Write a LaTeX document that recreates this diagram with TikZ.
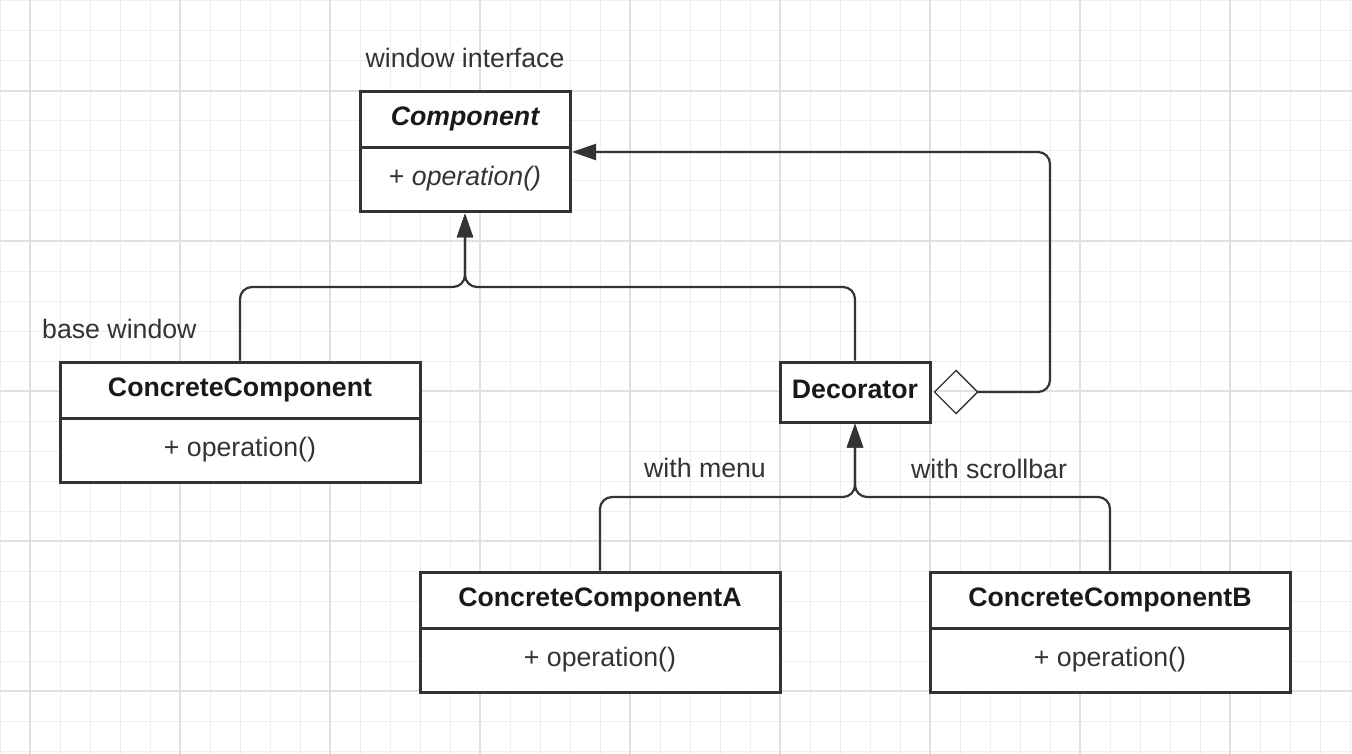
\documentclass[tikz,border=0pt]{standalone}
\usepackage{fontspec}
\setmainfont{Liberation Sans}
\usetikzlibrary{arrows.meta}
\definecolor{ink}{HTML}{333333}
\definecolor{gridminor}{HTML}{EEEEEE}
\definecolor{gridmajor}{HTML}{E0E0E0}
\tikzset{
  boxpart/.style={draw=ink, line width=3pt, fill=white, inner sep=0pt,
    text height=18pt, text depth=6pt, align=center},
  titletext/.style={font=\fontsize{26.7}{32}\selectfont\bfseries, text=black!90},
  bodytext/.style={font=\fontsize{26.7}{32}\selectfont, text=ink},
  lbl/.style={font=\fontsize{26.7}{32}\selectfont, text=ink, inner sep=0pt, anchor=base},
  conn/.style={draw=ink, line width=2.2pt, rounded corners=12pt},
  inherit/.style={conn, -{Triangle[length=24pt,width=16pt]}},
}
\begin{document}
\begin{tikzpicture}[x=1pt,y=-1pt]
\useasboundingbox (0,0) rectangle (1352,754);
\fill[white] (0,0) rectangle (1352,754);
% grid
\foreach \x in {0,30,...,1350} \draw[gridminor, line width=1pt] (\x,0) -- (\x,754);
\foreach \y in {1,31,...,751} \draw[gridminor, line width=1pt] (0,\y) -- (1352,\y);
\foreach \x in {30,180,...,1230} \draw[gridmajor, line width=1.2pt] (\x,0) -- (\x,754);
\foreach \y in {91,241,...,691} \draw[gridmajor, line width=1.2pt] (0,\y) -- (1352,\y);

% classes
\node[boxpart, titletext, minimum width=210pt, minimum height=56pt] (compt) at (465,120) {\itshape Component};
\node[boxpart, bodytext, minimum width=210pt, minimum height=64pt] (compb) at (465,180) {+ \itshape operation()};

\node[boxpart, titletext, minimum width=360pt, minimum height=56pt] (cct) at (240,390) {ConcreteComponent};
\node[boxpart, bodytext, minimum width=360pt, minimum height=64pt] (ccb) at (240,450) {+ operation()};

\node[boxpart, titletext, minimum width=150pt, minimum height=60pt] (dec) at (855,392) {Decorator};

\node[boxpart, titletext, minimum width=360pt, minimum height=56pt] (cat) at (600,600) {ConcreteComponentA};
\node[boxpart, bodytext, minimum width=360pt, minimum height=64pt] (cab) at (600,660) {+ operation()};

\node[boxpart, titletext, minimum width=360pt, minimum height=56pt] (cbt) at (1110,600) {ConcreteComponentB};
\node[boxpart, bodytext, minimum width=360pt, minimum height=64pt] (cbb) at (1110,660) {+ operation()};

% labels
\node[lbl] (l1) at (465,68) {window interface};
\node[lbl, anchor=base west] (l2) at (42,338) {base window};
\node[lbl] (l3) at (705,477) {with menu};
\node[lbl, anchor=base west] (l4) at (911,478) {with scrollbar};

% coordinates
\coordinate (j1) at (465,287);
\coordinate (j2) at (855,497);
\coordinate (aggc) at (1050,392);
\coordinate (aggend) at (572,152);

% connectors
\draw[inherit] (cct.north) |- (j1) -- (compb.south);
\draw[inherit] (dec.north) |- (j1) -- (compb.south);
\draw[inherit] (cat.north) |- (j2) -- (dec.south);
\draw[inherit] (cbt.north) |- (j2) -- (dec.south);
\draw[conn, {Diamond[open,length=45pt,width=45pt,line width=1.3pt,sep=2pt]}-{Triangle[length=24pt,width=16pt]}]
  (dec.east) -- (aggc) |- (aggend);
\end{tikzpicture}
\end{document}
